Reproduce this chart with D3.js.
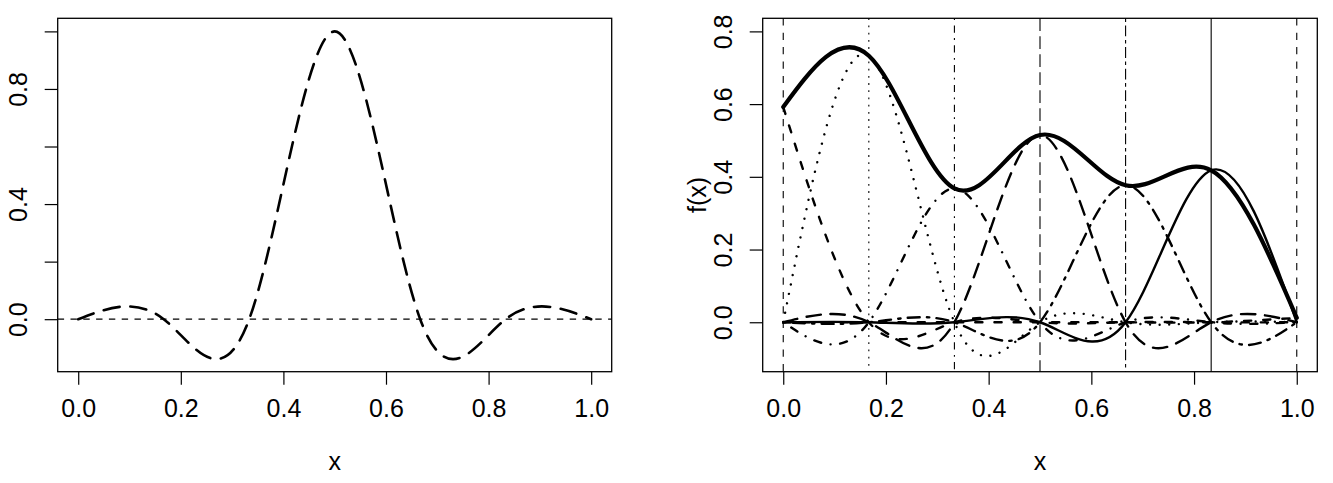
<!DOCTYPE html>
<html>
<head>
<meta charset="utf-8">
<script src="https://cdn.jsdelivr.net/npm/d3@7"></script>
<style>
  body { margin: 0; background: #fff; }
  svg { display: block; }
  svg text { font-family: "Liberation Sans", Arial, Helvetica, sans-serif; }
</style>
</head>
<body>
<div id="chart"></div>
<script>
// interpolation nodes (x) and values
var nodes = [0, 1/6, 2/6, 3/6, 4/6, 5/6, 1];
// left panel: the cardinal function of the middle node
var leftValues = [0, 0, 0, 1, 0, 0, 0];
// right panel: f(x) at the nodes
var nodeValues = [0.592, 0.733, 0.368, 0.515, 0.377, 0.418, 0.012];
// line type of each node's curve and vertical line
var nodeLty = ["dashed", "dotted", "dotdash", "longdash", "twodash", "solid", "dashed"];
var xTicks = [0, 0.2, 0.4, 0.6, 0.8, 1.0];
var leftYTicks = [0, 0.2, 0.4, 0.6, 0.8, 1.0];
var leftYLabels = [0, 0.4, 0.8];
var rightYTicks = [0, 0.2, 0.4, 0.6, 0.8];
var leftYLim = [-0.137, 1];
var rightYLim = [-0.1, 0.8];

var width = 1333, height = 483;
var svg = d3.select("#chart").append("svg")
  .attr("width", width).attr("height", height);

// R style: pad limits by 4%
function pad(lim) {
  var r = lim[1] - lim[0];
  return [lim[0] - 0.04 * r, lim[1] + 0.04 * r];
}

// R lty patterns, in units of u, round caps eat the line width
function dash(lty, u, w) {
  var pats = { dashed: [4, 4], dotted: [1, 3], dotdash: [1, 3, 4, 3],
               longdash: [7, 3], twodash: [2, 2, 6, 2] };
  if (!pats[lty]) return null;
  return pats[lty].map(function(v, i) {
    return i % 2 === 0 ? Math.max(0.01, v * u - w) : v * u + w;
  }).join(",");
}

var boxTop = 18.3, boxBottom = 371.7;

function panel(left, right, ylim, yTicks, yLabels, ylab) {
  var x = d3.scaleLinear().domain(pad([0, 1])).range([left, right]);
  var y = d3.scaleLinear().domain(pad(ylim)).range([boxBottom, boxTop]);
  var g = svg.append("g");

  // x axis
  var ax = g.append("g").attr("transform", "translate(0," + boxBottom + ")")
    .call(d3.axisBottom(x).tickValues(xTicks).tickSize(13).tickSizeOuter(0)
      .tickFormat(d3.format(".1f")));
  ax.attr("font-family", null).attr("font-size", null);
  ax.select(".domain").remove();
  ax.selectAll("line").attr("stroke", "#000").attr("stroke-width", 1.2);
  ax.selectAll("text").attr("y", 45).attr("dy", 0)
    .attr("font-size", 25).attr("fill", "#000");

  // y axis
  var ay = g.append("g").attr("transform", "translate(" + left + ",0)")
    .call(d3.axisLeft(y).tickValues(yTicks).tickSize(13).tickSizeOuter(0)
      .tickFormat(function(d) {
        return yLabels.some(function(l) { return Math.abs(l - d) < 1e-9; }) ? d3.format(".1f")(d) : "";
      }));
  ay.attr("font-family", null).attr("font-size", null);
  ay.select(".domain").remove();
  ay.selectAll("line").attr("stroke", "#000").attr("stroke-width", 1.2);
  ay.selectAll("text").attr("transform", "rotate(-90)")
    .attr("x", 0).attr("y", -30.7).attr("dy", 0)
    .attr("text-anchor", "middle").attr("font-size", 25).attr("fill", "#000");

  g.append("text").attr("x", (left + right) / 2).attr("y", 470)
    .attr("text-anchor", "middle").attr("font-size", 25).text("x");
  if (ylab) {
    g.append("text").attr("transform", "translate(" + (left - 57) + "," + ((boxTop + boxBottom) / 2) + ") rotate(-90)")
      .attr("text-anchor", "middle").attr("font-size", 25).text(ylab);
  }
  return { g: g, x: x, y: y, left: left, right: right };
}

function curve(p, values, lty, w, u) {
  var line = d3.line()
    .x(function(d, i) { return p.x(nodes[i]); })
    .y(function(d) { return p.y(d); })
    .curve(d3.curveNatural);
  p.g.append("path").datum(values)
    .attr("d", line)
    .attr("fill", "none").attr("stroke", "#000")
    .attr("stroke-width", w).attr("stroke-linecap", "round")
    .attr("stroke-dasharray", dash(lty, u, w));
}

// left panel
var pL = panel(57.7, 611.7, leftYLim, leftYTicks, leftYLabels, null);
pL.g.append("line")
  .attr("x1", pL.left).attr("x2", pL.right)
  .attr("y1", pL.y(0)).attr("y2", pL.y(0))
  .attr("stroke", "#000").attr("stroke-width", 1.3)
  .attr("stroke-dasharray", dash("dashed", 1.6, 0));
curve(pL, leftValues, "longdash", 2.6, 2.7);
pL.g.append("rect").attr("x", pL.left).attr("y", boxTop)
  .attr("width", pL.right - pL.left).attr("height", boxBottom - boxTop)
  .attr("fill", "none").attr("stroke", "#000").attr("stroke-width", 1.3);

// right panel
var pR = panel(762.7, 1317.3, rightYLim, rightYTicks, rightYTicks, "f(x)");
curve(pR, nodeValues, "solid", 4.2, 1);
nodes.forEach(function(n, k) {
  var vals = nodes.map(function(_, i) { return i === k ? nodeValues[k] : 0; });
  curve(pR, vals, nodeLty[k], 2.4, 2.4);
});
nodes.forEach(function(n, k) {
  pR.g.append("line")
    .attr("x1", pR.x(n)).attr("x2", pR.x(n))
    .attr("y1", boxTop).attr("y2", boxBottom)
    .attr("stroke", "#000").attr("stroke-width", 1.1)
    .attr("stroke-dasharray", dash(nodeLty[k], 1.8, 0));
});
pR.g.append("rect").attr("x", pR.left).attr("y", boxTop)
  .attr("width", pR.right - pR.left).attr("height", boxBottom - boxTop)
  .attr("fill", "none").attr("stroke", "#000").attr("stroke-width", 1.3);
</script>
</body>
</html>
